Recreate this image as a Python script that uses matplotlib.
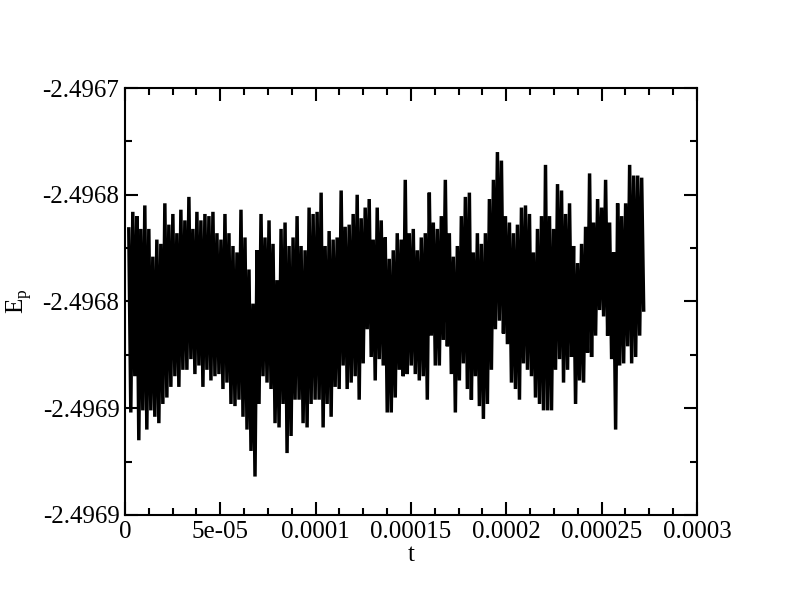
import numpy as np
import matplotlib
matplotlib.use("Agg")
import matplotlib.pyplot as plt
from matplotlib.ticker import AutoMinorLocator

# Upper spikes of the E_p trace, read left to right
ep_hi = [
    -2.496766, -2.496758, -2.496760, -2.496766, -2.496755, -2.496766, -2.496779, -2.496771,
    -2.496773, -2.496754, -2.496764, -2.496759, -2.496768, -2.496757, -2.496762, -2.496751,
    -2.496766, -2.496758, -2.496762, -2.496759, -2.496760,
    -2.496758, -2.496768, -2.496771, -2.496759, -2.496768, -2.496774, -2.496777, -2.496757,
    -2.496770, -2.496785, -2.496801, -2.496776, -2.496759, -2.496770, -2.496762, -2.496773,
    -2.496790, -2.496766, -2.496763, -2.496774, -2.496770, -2.496760,
    -2.496774, -2.496776, -2.496756, -2.496759, -2.496758, -2.496749, -2.496774, -2.496767,
    -2.496771, -2.496770, -2.496748, -2.496765, -2.496764, -2.496759, -2.496750, -2.496761,
    -2.496756, -2.496752, -2.496771, -2.496756, -2.496762, -2.496770,
    -2.496780, -2.496776, -2.496768, -2.496771, -2.496743, -2.496768, -2.496766, -2.496776,
    -2.496770, -2.496768, -2.496749, -2.496763, -2.496766, -2.496760, -2.496743, -2.496768,
    -2.496779, -2.496774, -2.496760, -2.496751, -2.496749, -2.496777,
    -2.496768, -2.496773, -2.496768, -2.496752, -2.496743, -2.496730, -2.496734, -2.496760,
    -2.496763, -2.496768, -2.496764, -2.496756, -2.496755, -2.496759, -2.496777, -2.496766,
    -2.496760, -2.496736, -2.496760, -2.496766, -2.496745, -2.496748,
    -2.496759, -2.496754, -2.496774, -2.496782, -2.496773, -2.496765, -2.496740, -2.496763,
    -2.496752, -2.496756, -2.496743, -2.496763, -2.496777, -2.496754, -2.496760, -2.496754,
    -2.496736, -2.496741, -2.496741, -2.496742,
]

# Lower spikes of the E_p trace
ep_lo = [
    -2.496852, -2.496835, -2.496865, -2.496851, -2.496860, -2.496851, -2.496854, -2.496857,
    -2.496848, -2.496845, -2.496840, -2.496835, -2.496840, -2.496832, -2.496832, -2.496827,
    -2.496834, -2.496830, -2.496840, -2.496832, -2.496837,
    -2.496835, -2.496834, -2.496841, -2.496838, -2.496848, -2.496849, -2.496846, -2.496854,
    -2.496860, -2.496870, -2.496882, -2.496848, -2.496835, -2.496838, -2.496841, -2.496857,
    -2.496859, -2.496848, -2.496871, -2.496863, -2.496846, -2.496846,
    -2.496857, -2.496859, -2.496848, -2.496846, -2.496846, -2.496859, -2.496848, -2.496854,
    -2.496840, -2.496841, -2.496830, -2.496841, -2.496838, -2.496835, -2.496846, -2.496829,
    -2.496813, -2.496826, -2.496837, -2.496827, -2.496830, -2.496852,
    -2.496852, -2.496845, -2.496832, -2.496835, -2.496834, -2.496830, -2.496834, -2.496837,
    -2.496835, -2.496846, -2.496816, -2.496830, -2.496830, -2.496818, -2.496821, -2.496834,
    -2.496852, -2.496837, -2.496829, -2.496841, -2.496846, -2.496835,
    -2.496849, -2.496855, -2.496848, -2.496832, -2.496813, -2.496809, -2.496815, -2.496820,
    -2.496838, -2.496841, -2.496846, -2.496829, -2.496832, -2.496835, -2.496845, -2.496848,
    -2.496851, -2.496851, -2.496851, -2.496832, -2.496827, -2.496838,
    -2.496832, -2.496826, -2.496848, -2.496837, -2.496838, -2.496824, -2.496826, -2.496816,
    -2.496804, -2.496807, -2.496816, -2.496827, -2.496860, -2.496830, -2.496829, -2.496821,
    -2.496829, -2.496826, -2.496816, -2.496804,
]

t_start = 2e-6
t_end = 2.71e-4

# Axis ticks
x_ticks = [0, 5e-05, 0.0001, 0.00015, 0.0002, 0.00025, 0.0003]
x_tick_labels = ["0", "5e-05", "0.0001", "0.00015", "0.0002", "0.00025", "0.0003"]
y_ticks = [-2.4969, -2.49685, -2.4968, -2.49675, -2.4967]
y_tick_labels = ["-2.4969", "-2.4969", "-2.4968", "-2.4968", "-2.4967"]

# Build the trace: each sample goes up to its high and down to its low
t = np.linspace(t_start, t_end, len(ep_hi))
dt = t[1] - t[0]
t_line = np.column_stack([t, t + dt / 2]).ravel()
e_line = np.column_stack([ep_hi, ep_lo]).ravel()

plt.rcParams["font.family"] = ["Liberation Serif", "DejaVu Serif"]

fig = plt.figure(figsize=(7.92, 6.07), dpi=100)
ax = fig.add_axes([0.1578, 0.1516, 0.7222, 0.7034])

ax.plot(t_line, e_line, color="black", linewidth=2.5, solid_joinstyle="miter")

ax.set_xlim(0, 0.0003)
ax.set_ylim(-2.4969, -2.4967)

ax.set_xticks(x_ticks)
ax.set_xticklabels(x_tick_labels)
ax.set_yticks(y_ticks)
ax.set_yticklabels(y_tick_labels)
ax.xaxis.set_minor_locator(AutoMinorLocator(4))
ax.yaxis.set_minor_locator(AutoMinorLocator(2))

ax.tick_params(which="both", direction="in", top=True, right=True,
               labelsize=18, width=1.5)
ax.tick_params(axis="x", pad=4)
ax.tick_params(axis="y", pad=4)
ax.tick_params(which="major", length=9.5)
ax.tick_params(which="minor", length=5)
for side in ax.spines.values():
    side.set_linewidth(1.5)

ax.set_xlabel("t", fontsize=18, labelpad=1)
ax.set_ylabel("E$_\\mathregular{p}$", fontsize=18, labelpad=6)

fig.savefig("out.png", dpi=100)
